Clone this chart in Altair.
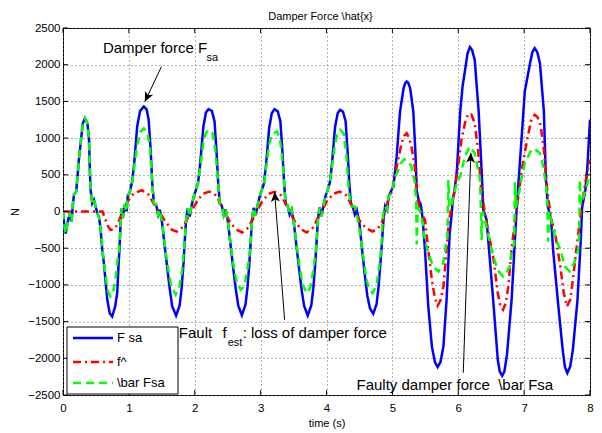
import math
import altair as alt
import pandas as pd

# ---------------- data ----------------
series_names = ["F sa", "f^", "\\bar Fsa"]
series_colors = ["#0000ff", "#ff0000", "#00ff00"]
series_dash = [[1, 0], [8, 4, 2, 4], [8, 5]]

t_fsa = [0.00, 0.02, 0.04, 0.06, 0.08, 0.105, 0.13, 0.15, 0.167, 0.20,
         0.215, 0.24, 0.268, 0.30, 0.333, 0.37, 0.394, 0.41, 0.419, 0.444,
         0.47, 0.495, 0.52, 0.545, 0.57, 0.596, 0.62, 0.672, 0.71, 0.747,
         0.79, 0.823, 0.845, 0.858, 0.874, 0.889, 0.909, 0.934, 0.965, 0.985,
         1.01, 1.05, 1.08, 1.126, 1.17, 1.227, 1.27, 1.30, 1.33, 1.354,
         1.38, 1.414, 1.444, 1.47, 1.505, 1.545, 1.58, 1.62, 1.657, 1.717,
         1.77, 1.80, 1.83, 1.848, 1.869, 1.894, 1.924, 1.949, 1.985,
         2.01, 2.05, 2.08, 2.13, 2.17, 2.21, 2.26, 2.30, 2.33, 2.355,
         2.38, 2.41, 2.44, 2.47, 2.505, 2.545, 2.58, 2.62, 2.66, 2.715,
         2.77, 2.80, 2.83, 2.85, 2.87, 2.895, 2.925, 2.95, 2.985,
         3.01, 3.05, 3.08, 3.13, 3.17, 3.21, 3.26, 3.30, 3.33, 3.355,
         3.38, 3.41, 3.44, 3.47, 3.505, 3.545, 3.58, 3.62, 3.66, 3.715,
         3.77, 3.80, 3.83, 3.85, 3.87, 3.895, 3.925, 3.95, 3.985,
         4.01, 4.05, 4.08, 4.13, 4.17, 4.207, 4.25, 4.29, 4.32, 4.345,
         4.37, 4.40, 4.43, 4.46, 4.50, 4.54, 4.58, 4.62, 4.66, 4.71,
         4.76, 4.79, 4.82, 4.845, 4.865, 4.89, 4.92, 4.94, 4.965,
         5.015, 5.065, 5.116, 5.17, 5.195, 5.217, 5.24, 5.27, 5.318, 5.35,
         5.37, 5.40, 5.43, 5.46, 5.495, 5.545, 5.60, 5.645, 5.687, 5.73,
         5.775, 5.823, 5.87, 5.90, 5.92, 5.94, 5.98,
         6.03, 6.065, 6.10, 6.14, 6.177, 6.21, 6.25, 6.31, 6.36, 6.38,
         6.43, 6.455, 6.53, 6.60, 6.63, 6.667, 6.70, 6.74, 6.81, 6.86,
         6.88, 6.91, 6.96,
         7.01, 7.09, 7.125, 7.16, 7.20, 7.24, 7.30, 7.33, 7.36, 7.41,
         7.44, 7.52, 7.585, 7.62, 7.656, 7.70, 7.74, 7.81, 7.86, 7.88,
         7.90, 7.93, 7.96, 8.00]
v_fsa = [0, -200, -300, -200, -110, -20, -140, 100, 230, 270,
         420, 700, 930, 1200, 1270, 1200, 1000, 500, 295, 113,
         160, 70, -20, -70, -230, -520, -700, -1200, -1390, -1430,
         -1300, -1110, -700, -500, -160, 45, -90, 90, 0, 227,
         250, 410, 650, 1157, 1370, 1430, 1390, 1250, 850, 400,
         113, 91, -45, 23, -159, -477, -750, -1050, -1290, -1420,
         -1280, -1050, -700, -400, -113, 45, -68, 68, 204,
         270, 390, 620, 1150, 1350, 1395, 1370, 1230, 820, 400,
         110, 80, -50, 30, -150, -470, -740, -1040, -1280, -1415,
         -1270, -1040, -690, -400, -110, 50, -60, 70, 200,
         270, 380, 610, 1140, 1340, 1394, 1365, 1230, 830, 410,
         100, 85, -40, 25, -160, -480, -750, -1050, -1285, -1418,
         -1275, -1045, -695, -410, -105, 55, -65, 65, 210,
         270, 390, 620, 1150, 1340, 1385, 1360, 1230, 820, 400,
         110, 60, -40, 20, -160, -520, -850, -1150, -1320, -1393,
         -1260, -1030, -690, -380, -120, 70, 20, 200, 250,
         340, 750, 1360, 1680, 1750, 1771, 1755, 1680, 1360, 800,
         280, 150, 100, -100, -520, -1294, -1839, -2050, -2120, -2050,
         -1839, -1203, -295, -45, 200, 250, 568,
         1362, 1700, 1907, 2150, 2239, 2200, 2066, 1362, 454, 23,
         -113, -386, -1203, -2020, -2180, -2238, -2180, -1950, -1203, -386,
         -68, 340, 977,
         1635, 2020, 2170, 2225, 2170, 2020, 1362, 454, 68, -113,
         -522, -1294, -1884, -2120, -2201, -2110, -1884, -1203, -386, 50,
         150, 300, 600, 1250]

t_fhat = [0.0, 0.3, 0.6, 0.64, 0.67, 0.72, 0.78, 0.823, 0.9, 0.975,
          1.076, 1.2, 1.3, 1.4, 1.48, 1.556, 1.657, 1.73, 1.83, 1.93,
          2.035, 2.12, 2.22, 2.32, 2.42, 2.52, 2.62, 2.72, 2.82, 2.92,
          3.02, 3.12, 3.21, 3.31, 3.41, 3.51, 3.61, 3.70, 3.80, 3.90,
          4.0, 4.1, 4.2, 4.3, 4.4, 4.5, 4.6, 4.7, 4.78, 4.84,
          4.94, 5.0, 5.066, 5.14, 5.18, 5.217, 5.25, 5.29, 5.34, 5.38,
          5.44, 5.495, 5.545, 5.6, 5.645, 5.687, 5.73, 5.775, 5.823, 5.86,
          5.92, 5.98, 6.05, 6.10, 6.15, 6.20, 6.25, 6.3, 6.35, 6.4,
          6.45, 6.53, 6.6, 6.64, 6.68, 6.72, 6.76, 6.81, 6.86, 6.92,
          6.97, 7.05, 7.11, 7.16, 7.20, 7.25, 7.3, 7.35, 7.41, 7.47,
          7.55, 7.60, 7.65, 7.70, 7.74, 7.81, 7.87, 7.93, 8.0]
v_fhat = [0, 0, 0, -100, -181, -250, -240, -180, -20, 130,
          250, 290, 227, 68, -30, -140, -250, -275, -204, -23,
          136, 240, 272, 220, 60, -120, -240, -285, -215, -30,
          130, 240, 268, 220, 60, -120, -240, -285, -215, -30,
          130, 240, 272, 220, 60, -120, -230, -272, -230, -150,
          159, 300, 613, 931, 1030, 1068, 1010, 886, 613, 159,
          -30, -113, -522, -931, -1180, -1284, -1210, -1021, -522, -113,
          150, 500, 977, 1200, 1331, 1320, 1203, 840, 300, 0,
          -250, -613, -1112, -1290, -1339, -1250, -1021, -522, -113, 250,
          600, 1000, 1250, 1317, 1290, 1180, 840, 300, -100, -295,
          -749, -1100, -1294, -1200, -931, -386, 50, 400, 704]

t_bar = [0.00, 0.02, 0.04, 0.06, 0.08, 0.105, 0.13, 0.15, 0.167, 0.20,
         0.215, 0.24, 0.268, 0.30, 0.333, 0.37, 0.394, 0.41, 0.419, 0.444,
         0.47, 0.495, 0.52, 0.545, 0.57, 0.60, 0.64, 0.68, 0.72, 0.76,
         0.80, 0.83, 0.858, 0.874, 0.889, 0.909, 0.934, 0.965, 0.985,
         1.01, 1.05, 1.08, 1.126, 1.17, 1.227, 1.28, 1.32, 1.354, 1.38,
         1.414, 1.444, 1.47, 1.505, 1.545, 1.59, 1.64, 1.71, 1.76, 1.80,
         1.83, 1.848, 1.869, 1.894, 1.924, 1.949, 1.985,
         2.01, 2.05, 2.08, 2.13, 2.17, 2.21, 2.27, 2.31, 2.355, 2.38,
         2.41, 2.44, 2.47, 2.505, 2.545, 2.59, 2.64, 2.70, 2.75, 2.79,
         2.83, 2.85, 2.87, 2.895, 2.925, 2.95, 2.985,
         3.01, 3.05, 3.08, 3.13, 3.18, 3.25, 3.29, 3.32, 3.355, 3.38,
         3.41, 3.44, 3.47, 3.505, 3.545, 3.59, 3.64, 3.70, 3.75, 3.79,
         3.83, 3.85, 3.87, 3.895, 3.925, 3.95, 3.985,
         4.01, 4.05, 4.08, 4.13, 4.17, 4.21, 4.26, 4.30, 4.34, 4.38,
         4.43, 4.455, 4.50, 4.55, 4.60, 4.65, 4.70, 4.76, 4.80, 4.83,
         4.86, 4.89, 4.92, 4.94,
         4.99, 5.04, 5.07, 5.12, 5.18, 5.24, 5.29, 5.34, 5.36, 5.37,
         5.385, 5.42, 5.46, 5.495, 5.545, 5.62, 5.70, 5.77, 5.82, 5.835,
         5.85, 5.865, 5.90, 5.94, 5.98,
         6.03, 6.10, 6.175, 6.25, 6.33, 6.345, 6.355, 6.37, 6.40, 6.45,
         6.53, 6.60, 6.68, 6.74, 6.78, 6.82, 6.85, 6.86, 6.875, 6.92, 6.96,
         7.01, 7.11, 7.16, 7.24, 7.29, 7.34, 7.355, 7.365, 7.38, 7.42,
         7.47, 7.55, 7.62, 7.69, 7.76, 7.82, 7.835, 7.845, 7.86, 7.90,
         7.95, 8.0]
v_bar = [0, -200, -300, -200, -110, -20, -140, 100, 230, 270,
         420, 700, 930, 1200, 1270, 1200, 1000, 500, 295, 113,
         160, 70, -20, -70, -230, -500, -850, -1080, -1157, -1100,
         -900, -650, -450, -160, 45, -90, 90, 0, 227,
         250, 400, 600, 900, 1080, 1134, 1080, 880, 400, 113,
         91, -45, 23, -159, -450, -750, -1000, -1134, -1050, -850,
         -600, -400, -113, 45, -68, 68, 204,
         270, 390, 580, 930, 1070, 1112, 1070, 850, 400, 110,
         80, -50, 30, -150, -450, -740, -980, -1066, -1020, -840,
         -600, -400, -110, 50, -60, 70, 200,
         270, 380, 570, 920, 1060, 1090, 1000, 800, 410, 100,
         85, -40, 25, -160, -450, -740, -1000, -1111, -1050, -850,
         -600, -410, -105, 55, -65, 65, 210,
         270, 390, 580, 930, 1070, 1113, 1060, 800, 250, 68,
         68, -23, -250, -550, -900, -1060, -1112, -1000, -750, -500,
         -23, 68, 23, 204,
         250, 477, 520, 650, 710, 680, 613, 400, 150, -450,
         50, 0, -150, -386, -568, -750, -817, -704, -431, -350,
         430, 50, 100, 250, 400,
         477, 750, 885, 795, 431, 0, -390, 0, -100, -300,
         -600, -800, -885, -820, -750, -500, -450, 400, 50, 250, 450,
         658, 840, 850, 795, 613, 300, 0, -410, 0, -150,
         -350, -522, -750, -817, -700, -522, -350, 430, 100, 200,
         350, 517]

x_ticks = [0, 1, 2, 3, 4, 5, 6, 7, 8]
y_ticks = [-2500, -2000, -1500, -1000, -500, 0, 500, 1000, 1500, 2000, 2500]

# annotations (data coordinates)
ann_text = ["Damper force F", "sa", "Fault", "f", "est", ": loss of damper force",
            "Faulty damper force \u00a0\\bar Fsa"]
ann_t = [0.606, 2.18, 1.758, 2.42, 2.50, 2.727, 4.455]
ann_v = [2227, 2093, -1652, -1652, -1793, -1652, -2360]
ann_fs = [15, 11, 15, 15, 11, 15, 15]

arrow_t0 = [1.495, 3.364, 6.076]
arrow_v0 = [1975, -1475, -2197]
arrow_t1 = [1.242, 3.212, 6.192]
arrow_v1 = [1494, 268, 800]

# ---------------- chart ----------------
W, H = 527, 367
X_MIN, X_MAX, Y_MIN, Y_MAX = 0, 8, -2500, 2500
FONT = "Liberation Sans"

rows = []
for name, ts, vs in zip(series_names, [t_fsa, t_fhat, t_bar], [v_fsa, v_fhat, v_bar]):
    for t, v in zip(ts, vs):
        rows.append({"t": t, "F": v, "series": name})
df = pd.DataFrame(rows)

xscale = alt.Scale(domain=[X_MIN, X_MAX], nice=False, zero=False)
yscale = alt.Scale(domain=[Y_MIN, Y_MAX], nice=False, zero=False)
xaxis = alt.Axis(values=x_ticks, format="d", labelPadding=7, titlePadding=4,
                 labelFlush=False, labelOverlap=False)
yaxis = alt.Axis(values=y_ticks, format="d", labelPadding=3, titlePadding=7,
                 labelFlush=False, labelOverlap=False)


def X(field="t"):
    return alt.X(f"{field}:Q", scale=xscale, axis=xaxis, title="time (s)")


def Y(field="F"):
    return alt.Y(f"{field}:Q", scale=yscale, axis=yaxis, title="N")


color = alt.Color("series:N", scale=alt.Scale(domain=series_names, range=series_colors),
                  legend=None)
dash = alt.StrokeDash("series:N", scale=alt.Scale(domain=series_names, range=series_dash),
                      legend=None)

layers = []
for name in series_names:
    layers.append(
        alt.Chart(df)
        .transform_filter(alt.datum.series == name)
        .mark_line(strokeWidth=2.5, clip=True)
        .encode(x=X(), y=Y(), color=color, strokeDash=dash, order="t:Q")
    )

# inward ticks on all four sides
xt = pd.DataFrame({"t": x_ticks})
yt = pd.DataFrame({"F": y_ticks})
layers.append(alt.Chart(xt).mark_rule(color="black", strokeWidth=1)
              .encode(x=X(), y=alt.value(H), y2=alt.value(H - 5)))
layers.append(alt.Chart(xt).mark_rule(color="black", strokeWidth=1)
              .encode(x=X(), y=alt.value(0), y2=alt.value(5)))
layers.append(alt.Chart(yt).mark_rule(color="black", strokeWidth=1)
              .encode(y=Y(), x=alt.value(0), x2=alt.value(5)))
layers.append(alt.Chart(yt).mark_rule(color="black", strokeWidth=1)
              .encode(y=Y(), x=alt.value(W), x2=alt.value(W - 5)))

# annotations
ann = pd.DataFrame({"t": ann_t, "F": ann_v, "txt": ann_text, "fs": ann_fs})
layers.append(alt.Chart(ann).mark_text(align="left", baseline="middle", font=FONT,
                                       color="black")
              .encode(x=X(), y=Y(), text="txt:N", size=alt.Size("fs:Q", scale=None)))

px_x = W / (X_MAX - X_MIN)
px_y = H / (Y_MAX - Y_MIN)
angles = []
for t0, v0, t1, v1 in zip(arrow_t0, arrow_v0, arrow_t1, arrow_v1):
    dx = (t1 - t0) * px_x
    dy = -(v1 - v0) * px_y
    angles.append(math.degrees(math.atan2(dx, -dy)) % 360)
arr = pd.DataFrame({"t": arrow_t0, "F": arrow_v0, "t2": arrow_t1, "F2": arrow_v1,
                    "ang": angles})
layers.append(alt.Chart(arr).mark_rule(color="black", strokeWidth=1)
              .encode(x=X(), y=Y(), x2="t2:Q", y2="F2:Q"))
layers.append(alt.Chart(arr).mark_point(shape="M0,0L0.9,2L0,1.5L-0.9,2Z", filled=True,
                                        color="black", opacity=1, size=100)
              .encode(x=X("t2"), y=Y("F2"), angle=alt.Angle("ang:Q", scale=None)))

# legend box (drawn by hand, MATLAB style)
one = pd.DataFrame({"k": [0]})
LEG_X0, LEG_X1, LEG_Y0, LEG_Y1 = 4, 115, 299, 366
LEG_ROWS = [310, 334, 355]
layers.append(alt.Chart(one).mark_rect(fill="white", stroke="black", strokeWidth=1)
              .encode(x=alt.value(LEG_X0), x2=alt.value(LEG_X1),
                      y=alt.value(LEG_Y0), y2=alt.value(LEG_Y1)))
for name, col, dsh, ry in zip(series_names, series_colors, series_dash, LEG_ROWS):
    layers.append(alt.Chart(one).mark_rule(strokeWidth=2.5, color=col, strokeDash=dsh)
                  .encode(x=alt.value(10), x2=alt.value(50), y=alt.value(ry)))
    layers.append(alt.Chart(one).mark_text(align="left", baseline="middle", font=FONT,
                                           fontSize=13, color="black", text=name)
                  .encode(x=alt.value(54), y=alt.value(ry)))

chart = (
    alt.layer(*layers)
    .properties(
        width=W, height=H,
        padding={"left": 55, "top": 20, "right": 4, "bottom": 34},
        autosize=alt.AutoSizeParams(type="none"),
        title=alt.TitleParams("Damper Force \\hat{x}", fontSize=11, font=FONT,
                              fontWeight="normal", color="black", offset=0, dx=-6,
                              anchor="middle"),
        background="white",
    )
    .configure_view(stroke="black", strokeWidth=1)
    .configure_axis(labelFont=FONT, labelFontSize=11.5, labelColor="black",
                    titleFont=FONT, titleFontSize=11, titleFontWeight="normal",
                    titleColor="black", domain=False, ticks=False, tickSize=0,
                    grid=True, gridColor="#666666", gridDash=[1, 3], gridWidth=1,
                    gridOpacity=1)
)

chart.save("out.html", embed_options={"renderer": "svg", "actions": False})
